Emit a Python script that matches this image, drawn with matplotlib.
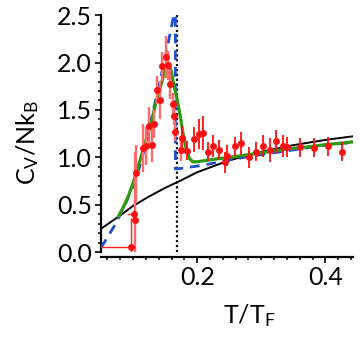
import numpy as np
import matplotlib
matplotlib.use("Agg")
import matplotlib.pyplot as plt
from matplotlib.ticker import MultipleLocator, FixedLocator

plt.rcParams['font.family'] = ['Lato', 'DejaVu Sans']
plt.rcParams['mathtext.default'] = 'regular'

# theory curves
black_x = [0.05, 0.065, 0.08, 0.10, 0.125, 0.15, 0.175, 0.20, 0.25, 0.30, 0.35, 0.40, 0.445]
black_y = [0.25, 0.32, 0.39, 0.49, 0.59, 0.68, 0.76, 0.845, 0.97, 1.06, 1.13, 1.185, 1.225]

blue_x = [0.05, 0.06, 0.07, 0.08, 0.09, 0.10, 0.11, 0.12, 0.13, 0.14, 0.15, 0.16, 0.166,
          0.166, 0.175, 0.19, 0.21, 0.24, 0.28, 0.32, 0.36, 0.40, 0.445]
blue_y = [0.05, 0.16, 0.27, 0.40, 0.54, 0.70, 0.90, 1.15, 1.45, 1.75, 2.05, 2.38, 2.6,
          0.88, 0.885, 0.90, 0.92, 0.96, 1.01, 1.05, 1.09, 1.13, 1.16]

green_x = [0.077, 0.085, 0.093, 0.10, 0.106, 0.113, 0.12, 0.128, 0.135, 0.142, 0.148,
           0.153, 0.157, 0.160, 0.163, 0.169, 0.174, 0.178, 0.183, 0.188, 0.193, 0.20,
           0.21, 0.23, 0.26, 0.30, 0.34, 0.37, 0.40, 0.445]
green_y = [0.38, 0.48, 0.60, 0.73, 0.86, 1.02, 1.18, 1.36, 1.56, 1.73, 1.87,
           1.95, 1.96, 1.90, 1.78, 1.60, 1.42, 1.25, 1.08, 0.99, 0.955, 0.955,
           0.965, 0.985, 1.01, 1.05, 1.09, 1.11, 1.135, 1.165]

tc = 0.168

# measured points, light error bars (critical region)
pk_x = [0.1027, 0.1053, 0.115, 0.1204, 0.1256, 0.1298, 0.1334, 0.1376, 0.1417, 0.1454,
        0.1506, 0.1548, 0.158, 0.162, 0.1645, 0.166, 0.175]
pk_y = [0.34, 0.835, 1.10, 1.12, 1.33, 1.13, 1.35, 1.71, 1.61, 1.96,
        2.06, 1.97, 1.77, 1.56, 1.44, 1.27, 1.08]
pk_err = [0.72, 0.30, 0.25, 0.20, 0.20, 0.18, 0.15, 0.15, 0.20, 0.15,
          0.22, 0.15, 0.15, 0.12, 0.10, 0.10, 0.12]

# measured points, normal error bars
tail_x = [0.176, 0.1845, 0.1947, 0.2025, 0.2087, 0.2165, 0.225, 0.2337, 0.2431, 0.2468,
          0.2582, 0.2686, 0.2805, 0.2914, 0.302, 0.3133, 0.3232, 0.3342, 0.3393, 0.36,
          0.3819, 0.4044, 0.4262]
tail_y = [1.21, 1.07, 1.19, 1.25, 1.26, 1.06, 1.12, 1.08, 0.95, 1.02,
          1.12, 1.15, 1.00, 1.06, 1.12, 1.08, 1.17, 1.12, 1.11, 1.11,
          1.105, 1.12, 1.06]
tail_err = [0.12, 0.10, 0.13, 0.16, 0.18, 0.10, 0.12, 0.10, 0.11, 0.11,
            0.10, 0.12, 0.11, 0.10, 0.12, 0.13, 0.12, 0.12, 0.11, 0.10,
            0.10, 0.10, 0.10]

# low temperature points with horizontal error bars
low_x = [0.0975, 0.101]
low_y = [0.06, 0.40]
low_xerr = [[0.05, 0.01], [0.004, 0.002]]
low_yerr = [0.30, 0.05]

fig = plt.figure(figsize=(3.6, 3.38), dpi=100)
ax = fig.add_axes([0.2806, 0.253, 0.70, 0.7026])

ax.plot(black_x, black_y, color='black', lw=1.4, zorder=2)
ax.axvline(tc, color='black', ls=(0, (1, 1.2)), lw=1.6, zorder=2)
ax.plot(blue_x, blue_y, color='#1f4fd0', lw=2.0, ls=(0, (3.5, 2.5)), zorder=3)
ax.plot(green_x, green_y, color='#2e9a14', lw=2.3, zorder=4)

ax.errorbar(pk_x, pk_y, yerr=pk_err, fmt='o', color='#ff1010', ms=5, mew=0,
            ecolor='#ff6a6a', elinewidth=1.7, capsize=0, zorder=5)
ax.errorbar(tail_x, tail_y, yerr=tail_err, fmt='o', color='#ff1010', ms=5, mew=0,
            ecolor='#ff1010', elinewidth=1.3, capsize=0, zorder=5)
ax.errorbar(low_x, low_y, xerr=low_xerr, yerr=low_yerr, fmt='o', color='#ff1010',
            ms=5, mew=0, ecolor='#ff2020', elinewidth=1.0, capsize=0, zorder=5)

ax.set_xlim(0.05, 0.443)
ax.set_ylim(0, 2.5)

for s in ['top', 'right']:
    ax.spines[s].set_visible(False)
ax.spines['left'].set_linewidth(1.6)
ax.spines['bottom'].set_linewidth(1.6)
ax.spines['bottom'].set_position(('outward', 3))

ax.xaxis.set_major_locator(FixedLocator([0.2, 0.4]))
ax.xaxis.set_minor_locator(MultipleLocator(0.02))
ax.yaxis.set_minor_locator(MultipleLocator(0.1))
ax.set_yticks([0, 0.5, 1.0, 1.5, 2.0, 2.5])
ax.set_yticklabels(['0.0', '0.5', '1.0', '1.5', '2.0', '2.5'])
ax.tick_params(which='major', length=4.5, width=1.2, labelsize=18, pad=2)
ax.tick_params(which='minor', length=2.5, width=1.1)

ax.set_xlabel('T/T$_F$', fontsize=18)
ax.set_ylabel('C$_V$/Nk$_B$', fontsize=18)
ax.xaxis.set_label_coords(0.59, -0.21)
ax.yaxis.set_label_coords(-0.24, 0.465)

fig.savefig('out.png', dpi=100)
